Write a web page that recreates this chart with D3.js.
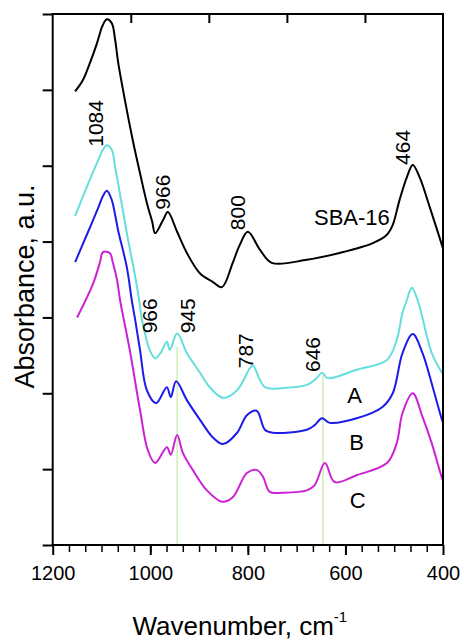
<!DOCTYPE html>
<html>
<head>
<meta charset="utf-8">
<script src="https://cdn.jsdelivr.net/npm/d3@7"></script>
<style>
  body { margin: 0; background: #fff; }
  text { font-family: "Liberation Sans", Arial, sans-serif; fill: #000; }
</style>
</head>
<body>
<div class="svg-canvas"></div>
<script>
// IR spectra: SBA-16 and samples A, B, C (wavenumber, absorbance in a.u.)
var wnSBA  = [1154,1138,1124,1109,1103,1099,1089,1079,1072,1066,1048,1036,1021,1007,996,990,974,964,945,925,898,872,853,831,817,800,775,751,679,612,544,515,503,489,474,462,448,427,400];
var absSBA = [5.98,6.13,6.35,6.62,6.75,6.83,6.93,6.88,6.66,6.37,5.73,5.34,4.90,4.51,4.26,4.11,4.28,4.39,4.13,3.85,3.58,3.47,3.40,3.72,3.95,4.13,3.89,3.72,3.76,3.85,3.98,4.09,4.22,4.55,4.85,5.01,4.85,4.45,3.91];

var wnA  = [1154,1130,1107,1097,1089,1079,1072,1066,1048,1027,1017,1011,1001,990,978,966,960,945,925,898,878,851,822,796,790,765,728,679,659,648,636,577,515,495,483,474,464,452,423,403,400];
var absA = [4.34,4.72,5.07,5.21,5.27,5.21,4.98,4.77,4.11,3.40,2.97,2.79,2.57,2.46,2.54,2.68,2.57,2.79,2.53,2.27,2.08,1.94,2.04,2.33,2.37,2.08,2.07,2.11,2.20,2.27,2.20,2.31,2.44,2.70,3.06,3.23,3.39,3.23,2.53,2.28,2.25];

var wnB  = [1154,1130,1107,1097,1089,1079,1072,1066,1048,1038,1031,1021,1007,988,966,958,947,925,898,872,851,822,802,782,765,749,679,663,648,632,577,524,503,483,462,442,421,403,400];
var absB = [3.73,4.09,4.44,4.60,4.67,4.55,4.35,4.15,3.66,3.23,2.97,2.57,2.04,1.87,2.08,1.95,2.16,1.91,1.65,1.42,1.33,1.48,1.71,1.77,1.52,1.48,1.52,1.58,1.67,1.61,1.67,1.82,2.00,2.53,2.78,2.53,2.08,1.67,1.62];

var wnC  = [1150,1117,1103,1097,1083,1077,1068,1062,1052,1042,1021,1005,990,966,958,945,933,913,884,853,831,802,782,769,755,728,679,663,642,622,577,515,495,483,462,442,423,403,400];
var absC = [3.00,3.45,3.73,3.86,3.85,3.73,3.49,3.23,2.90,2.57,1.78,1.25,1.08,1.29,1.19,1.45,1.21,0.99,0.72,0.57,0.63,0.95,0.99,0.90,0.70,0.69,0.72,0.79,1.08,0.83,0.92,1.08,1.34,1.74,2.00,1.69,1.34,0.90,0.85];

var xTicksMajor = [1200,1000,800,600,400];
var yTicks = [0,1,2,3,4,5,6,7];
var topTicks = [1040,880,720,560];
var markLines = [945,646];
var markTops = [2.61,2.24];

var sp = {};
sp.width = 464;
sp.height = 642;
sp.margin = {top:14, left:52.7, right:21, bottom:97};

var x = d3.scaleLinear().domain([1200,400]).range([sp.margin.left, sp.width - sp.margin.right]);
var y = d3.scaleLinear().domain([0,7]).range([sp.height - sp.margin.bottom, sp.margin.top]);

var svg = d3.select("body").select(".svg-canvas").append("svg")
    .attr("width", sp.width)
    .attr("height", sp.height);

// green marker lines
markLines.forEach(function(w, i){
    svg.append("line")
        .attr("x1", x(w)).attr("x2", x(w))
        .attr("y1", y(markTops[i])).attr("y2", y(0))
        .attr("stroke", "#b9e68f").attr("stroke-width", 1);
});

// spectra
var line = d3.line()
    .x(function(d){ return x(d[0]); })
    .y(function(d){ return y(d[1]); })
    .curve(d3.curveCatmullRom.alpha(0.5));

var series = [
    {wn: wnSBA, ab: absSBA, color: "#000000"},
    {wn: wnA, ab: absA, color: "#66dede"},
    {wn: wnB, ab: absB, color: "#1c1ce6"},
    {wn: wnC, ab: absC, color: "#cc22d6"}
];
series.forEach(function(s){
    svg.append("path")
        .datum(d3.zip(s.wn, s.ab))
        .attr("fill", "none")
        .attr("stroke", s.color)
        .attr("stroke-width", 2)
        .attr("stroke-linejoin", "round")
        .attr("d", line);
});

// frame as filled bars, 2px thick
var bw = 2;
var frameBars = [
    {x: x(1200) - bw / 2, y: y(7) - bw / 2, w: x(400) - x(1200) + bw, h: bw},
    {x: x(1200) - bw / 2, y: y(0) - bw / 2, w: x(400) - x(1200) + bw, h: bw},
    {x: x(1200) - bw / 2, y: y(7) - bw / 2, w: bw, h: y(0) - y(7) + bw},
    {x: x(400) - bw / 2, y: y(7) - bw / 2, w: bw, h: y(0) - y(7) + bw}
];
svg.selectAll("rect.frame")
    .data(frameBars)
    .enter()
    .append("rect")
    .attr("class", "frame")
    .attr("x", function(d){ return d.x; })
    .attr("y", function(d){ return d.y; })
    .attr("width", function(d){ return d.w; })
    .attr("height", function(d){ return d.h; })
    .attr("fill", "#000");

// bottom axis: minor ticks every 200/6, then majors with labels
var gx = svg.append("g").attr("transform", "translate(0," + y(0) + ")")
    .call(d3.axisBottom(x)
        .tickValues(d3.range(1, 24).map(function(i){ return 1200 - i * 200 / 6; }))
        .tickSize(7)
        .tickFormat(""));
gx.select(".domain").remove();
gx.selectAll("line").attr("stroke-width", 1.5);

var gxm = svg.append("g").attr("transform", "translate(0," + y(0) + ")")
    .call(d3.axisBottom(x).tickValues(xTicksMajor).tickSize(10).tickPadding(11).tickFormat(d3.format("d")));
gxm.select(".domain").remove();
gxm.selectAll("line").attr("stroke-width", 2);
gxm.selectAll("text")
    .style("font-size", "20px")
    .style("font-family", "Liberation Sans, Arial, sans-serif");

// left axis, outward ticks, no labels
var gy = svg.append("g").attr("transform", "translate(" + x(1200) + ",0)")
    .call(d3.axisLeft(y).tickValues(yTicks).tickSize(10).tickFormat(""));
gy.select(".domain").remove();
gy.selectAll("line").attr("stroke-width", 2);

// top axis, inward ticks
var gt = svg.append("g").attr("transform", "translate(0," + y(7) + ")")
    .call(d3.axisBottom(x).tickValues(topTicks).tickSize(9).tickFormat(""));
gt.select(".domain").remove();
gt.selectAll("line").attr("stroke-width", 2);

// axis titles
svg.append("text")
    .attr("transform", "translate(34," + ((175 + 398) / 2) + ") rotate(-90)")
    .attr("text-anchor", "middle")
    .style("font-size", "27px")
    .text("Absorbance,  a.u.");

var xt = svg.append("text")
    .attr("x", (x(1200) + x(400)) / 2 - 8)
    .attr("y", 635)
    .attr("text-anchor", "middle")
    .style("font-size", "26px");
xt.append("tspan").text("Wavenumber, cm");
xt.append("tspan").attr("dy", -13).style("font-size", "15px").text("-1");

// peak labels (rotated)
var peakText = ["1084","966","800","464","966","945","787","646"];
var peakWn   = [1097,960,806,468,986,908,790,653];
var peakAb   = [5.25,4.42,4.15,5.01,2.79,2.79,2.33,2.28];
peakText.forEach(function(t, i){
    svg.append("text")
        .attr("transform", "translate(" + x(peakWn[i]) + "," + y(peakAb[i]) + ") rotate(-90)")
        .attr("text-anchor", "start")
        .style("font-size", "21px")
        .text(t);
});

// sample names
var nameText = ["SBA-16","A","B","C"];
var nameWn   = [509,581,577,575];
var nameAb   = [4.22,1.87,1.25,0.49];
var nameAnchor = ["end","middle","middle","middle"];
nameText.forEach(function(t, i){
    svg.append("text")
        .attr("x", x(nameWn[i]))
        .attr("y", y(nameAb[i]))
        .attr("text-anchor", nameAnchor[i])
        .style("font-size", "22px")
        .text(t);
});
</script>
</body>
</html>
